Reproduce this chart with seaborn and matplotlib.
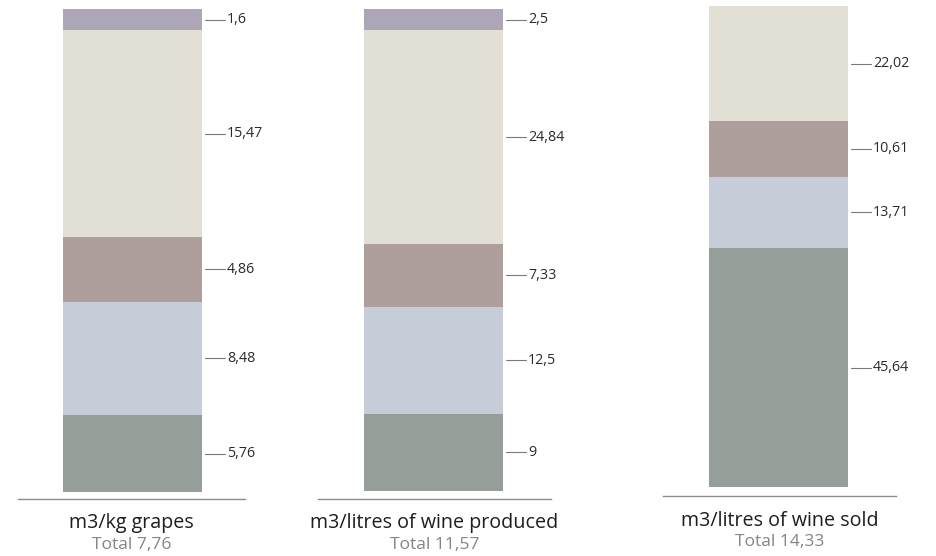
import matplotlib
matplotlib.use("Agg")
import matplotlib.pyplot as plt
import matplotlib.transforms as mtransforms
import seaborn as sns
import pandas as pd

# Stacked water-use breakdown per unit (segments listed bottom to top)
panel_titles = ["m3/kg grapes", "m3/litres of wine produced", "m3/litres of wine sold"]
panel_totals = ["Total 7,76", "Total 11,57", "Total 14,33"]
grapes_values = [5.76, 8.48, 4.86, 15.47, 1.6]
produced_values = [9, 12.5, 7.33, 24.84, 2.5]
sold_values = [45.64, 13.71, 10.61, 22.02]
segment_colors = ["#969e9a", "#c6cdd8", "#ae9f9d", "#e2e0d4", "#aca6b6"]

W, H = 937, 556
sns.set_theme(style="white")
plt.rcParams["font.family"] = ["Open Sans", "DejaVu Sans"]

fig = plt.figure(figsize=(W / 100, H / 100), dpi=100)

# panel geometry in pixels: (axes left, axes right, baseline y, bar top y, bar bottom y, bar left, bar right, title y, total y)
geometry = [
    (18, 245, 499, 9, 492, 63, 202, 523, 545),
    (318, 551, 499, 9, 491, 364, 503, 523, 545),
    (663, 896, 496, 6, 487, 709, 848, 521, 542),
]

for values, title, total, geo in zip([grapes_values, produced_values, sold_values],
                                     panel_titles, panel_totals, geometry):
    ax_l, ax_r, base_y, top_y, bot_y, bar_l, bar_r, title_y, total_y = geo
    ax_w = ax_r - ax_l
    ax = fig.add_axes([ax_l / W, 1 - base_y / H, ax_w / W, (base_y - top_y) / H])

    tot = sum(values)
    shares = [v / tot for v in values]
    df = pd.DataFrame({"unit": [title] * len(values), "share": shares,
                       "value": values, "segment": range(len(values))})
    bar_width = (bar_r - bar_l) / ax_w
    bottom = 0.0
    label_pos = []
    for i, row in df.iterrows():
        sns.barplot(data=df.iloc[[i]], x="unit", y="share", bottom=bottom,
                    color=segment_colors[i], saturation=1, width=bar_width,
                    linewidth=0, ax=ax)
        label_pos.append(bottom + row["share"] / 2)
        bottom += row["share"]

    gap_frac = (base_y - bot_y) / (bot_y - top_y)
    ax.set_ylim(-gap_frac, 1.0)
    shift = ((bar_l + bar_r) / 2 - (ax_l + ax_r) / 2) / ax_w
    ax.set_xlim(-0.5 - shift, 0.5 - shift)

    # value labels with short leader lines
    trans = mtransforms.blended_transform_factory(ax.transAxes, ax.transData)
    x0 = (bar_r - ax_l + 3) / ax_w
    x1 = (bar_r - ax_l + 23) / ax_w
    xt = (bar_r - ax_l + 25) / ax_w
    for v, y in zip(values, label_pos):
        ax.plot([x0, x1], [y, y], color="#7a7a7a", lw=0.8, transform=trans, clip_on=False)
        ax.text(xt, y, f"{v:g}".replace(".", ","), transform=trans, va="center",
                ha="left", fontsize=10.3, color="#2a2a2a")

    ax.set_xlabel("")
    ax.set_ylabel("")
    ax.set_xticks([])
    ax.set_yticks([])
    for side in ["top", "left", "right"]:
        ax.spines[side].set_visible(False)
    ax.spines["bottom"].set_color("#8c8c8c")
    ax.spines["bottom"].set_linewidth(1)

    cx = (ax_l + ax_r) / 2 / W
    fig.text(cx, 1 - title_y / H, title, ha="center", va="center",
             fontsize=14.2, color="#1e1e1e")
    fig.text(cx, 1 - total_y / H, total, ha="center", va="center",
             fontsize=12.6, color="#858585")

fig.savefig("out.png", dpi=100)
